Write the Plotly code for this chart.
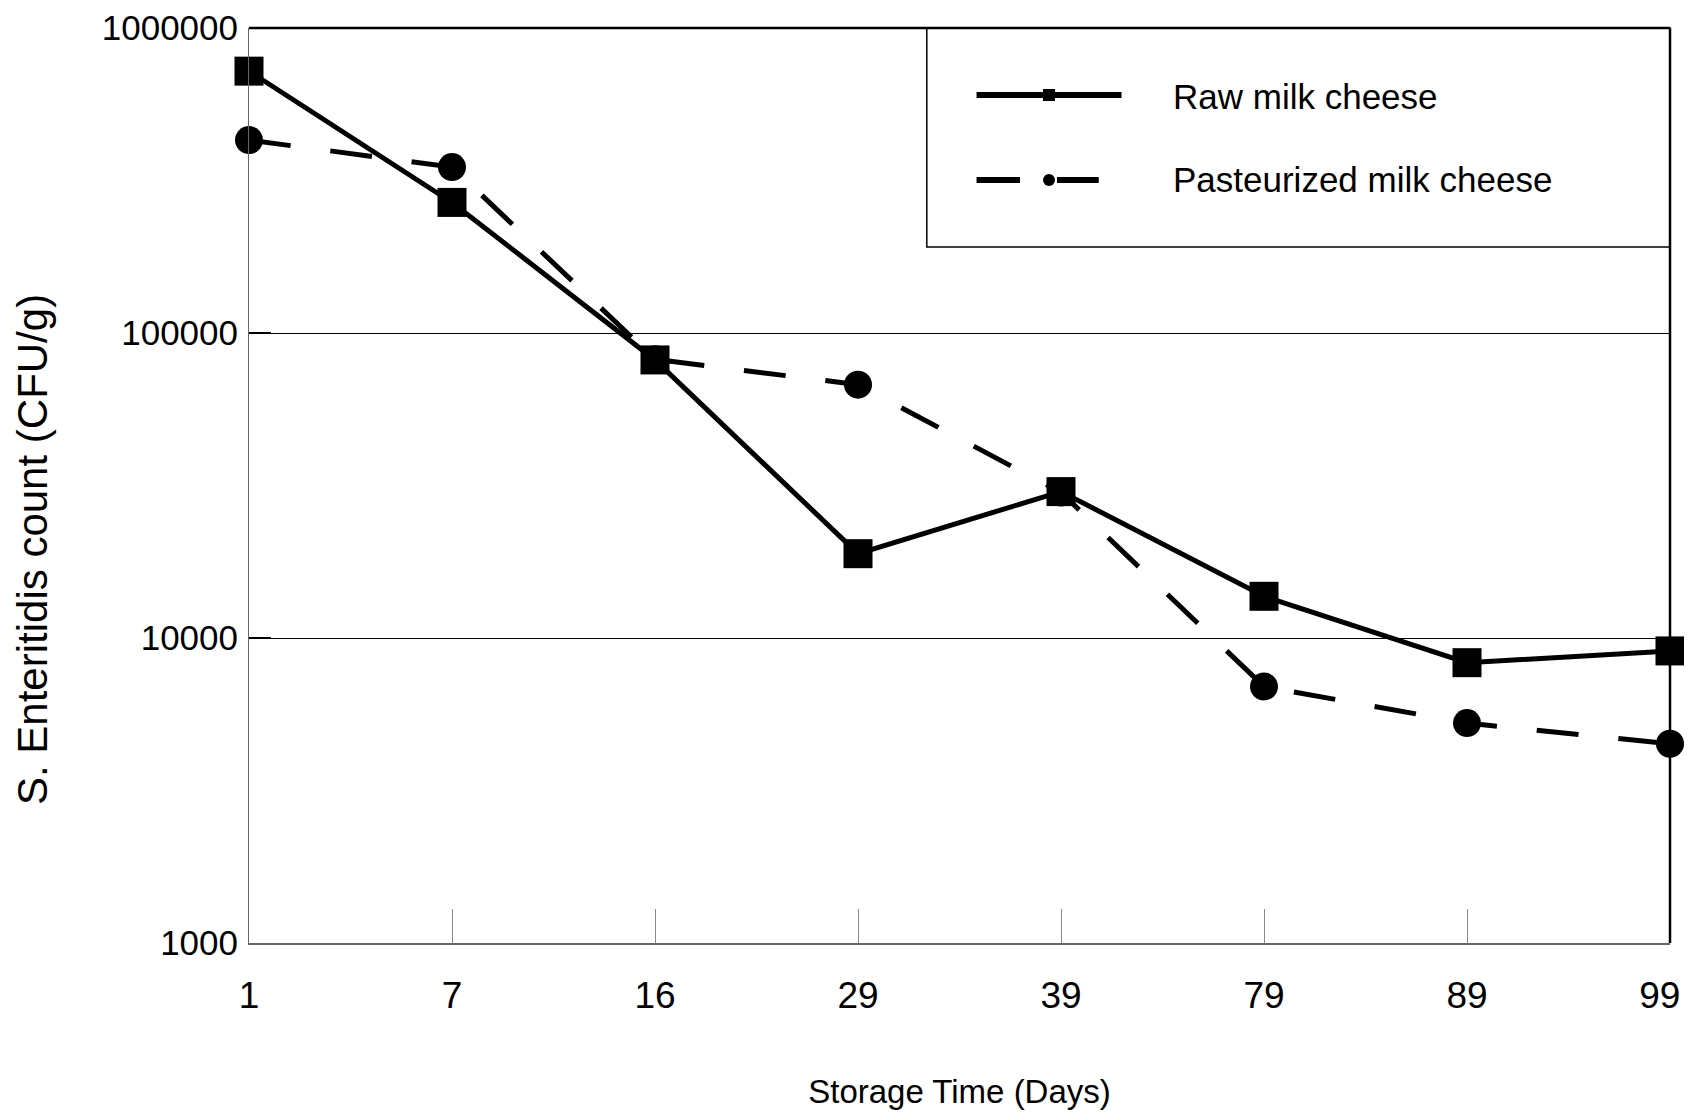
import plotly.graph_objects as go

days = ["1", "7", "16", "29", "39", "79", "89", "99"]
raw_milk = [722000, 268000, 81600, 18900, 30200, 13700, 8300, 9070]
pasteurized_milk = [429000, 350000, 82000, 67700, 30000, 6930, 5260, 4500]
y_tickvals = [1000, 10000, 100000, 1000000]
y_ticktext = ["1000", "10000", "100000", "1000000"]
# last day label padded so it stays inside the visible page edge
x_ticktext = days[:-1] + [days[-1] + "\u00a0\u00a0"]

NARROW = "Liberation Sans Narrow, Arial Narrow, Liberation Sans, sans-serif"
WIDE = "Liberation Sans, Arial, sans-serif"

fig = go.Figure()
fig.add_trace(go.Scatter(
    x=days, y=raw_milk, name="Raw milk cheese", mode="lines+markers",
    line=dict(color="black", width=5),
    marker=dict(symbol="square", size=29, color="black"),
    showlegend=False, cliponaxis=False,
))
fig.add_trace(go.Scatter(
    x=days, y=pasteurized_milk, name="Pasteurized milk cheese", mode="lines+markers",
    line=dict(color="black", width=5, dash="42px,40px"),
    marker=dict(symbol="circle", size=28, color="black"),
    showlegend=False, cliponaxis=False,
))

lx0, lx1, ly0, ly1 = 0.477, 1.0, 0.7607, 1.0
shapes = [
    dict(type="rect", xref="paper", yref="paper", x0=lx0, x1=lx1, y0=ly0, y1=ly1,
         line=dict(color="black", width=1.5), layer="below"),
    dict(type="line", xref="paper", yref="paper", x0=0, x1=1, y0=1, y1=1,
         line=dict(color="black", width=2.5)),
    dict(type="line", xref="paper", yref="paper", x0=1, x1=1, y0=0, y1=1,
         line=dict(color="black", width=2.5)),
]
fig.update_layout(shapes=shapes)

# legend samples on an overlay axis spanning the plot area
raw_y, past_y = 0.9268, 0.834
fig.add_trace(go.Scatter(
    x=[0.512, 0.614], y=[raw_y, raw_y], mode="lines", xaxis="x2", yaxis="y2",
    line=dict(color="black", width=6), showlegend=False, hoverinfo="skip"))
fig.add_trace(go.Scatter(
    x=[0.563], y=[raw_y], mode="markers", xaxis="x2", yaxis="y2",
    marker=dict(symbol="square", size=12, color="black"), showlegend=False, hoverinfo="skip"))
fig.add_trace(go.Scatter(
    x=[0.512, 0.5426], y=[past_y, past_y], mode="lines", xaxis="x2", yaxis="y2",
    line=dict(color="black", width=6), showlegend=False, hoverinfo="skip"))
fig.add_trace(go.Scatter(
    x=[0.5686, 0.598], y=[past_y, past_y], mode="lines", xaxis="x2", yaxis="y2",
    line=dict(color="black", width=6), showlegend=False, hoverinfo="skip"))
fig.add_trace(go.Scatter(
    x=[0.563], y=[past_y], mode="markers", xaxis="x2", yaxis="y2",
    marker=dict(symbol="circle", size=12, color="black"), showlegend=False, hoverinfo="skip"))

fig.add_annotation(xref="paper", yref="paper", x=0.649, y=0.9246, xanchor="left", yanchor="middle",
                   text="Raw milk cheese", showarrow=False, font=dict(family=NARROW, size=35, color="black"))
fig.add_annotation(xref="paper", yref="paper", x=0.649, y=0.834, xanchor="left", yanchor="middle",
                   text="Pasteurized milk cheese", showarrow=False, font=dict(family=NARROW, size=35, color="black"))

# y-axis title (placed lower than centre, as in the original)
fig.add_annotation(xref="paper", yref="paper", x=-0.1527, y=0.4295, xanchor="center", yanchor="middle",
                   text="S. Enteritidis count (CFU/g)", textangle=-90, showarrow=False,
                   font=dict(family=WIDE, size=42, color="black"))

fig.update_layout(
    width=1684, height=1102,
    margin=dict(l=241, r=22, t=20, b=167),
    paper_bgcolor="white", plot_bgcolor="white",
    showlegend=False,
    xaxis=dict(
        type="category", range=[0, 7], automargin=False,
        tickvals=days, ticktext=x_ticktext,
        showline=True, linecolor="#666666", linewidth=1.5,
        showgrid=False, zeroline=False,
        ticks="inside", ticklen=34, tickcolor="#888888", tickwidth=1,
        ticklabelstandoff=19,
        tickfont=dict(family=NARROW, size=37, color="black"),
        title=dict(text="Storage Time (Days)", standoff=75,
                   font=dict(family=NARROW, size=33, color="black")),
    ),
    yaxis=dict(
        type="log", range=[3, 6], automargin=False,
        tickvals=y_tickvals, ticktext=y_ticktext,
        showline=True, linecolor="#666666", linewidth=1,
        showgrid=True, gridcolor="black", gridwidth=1,
        zeroline=False,
        ticks="inside", ticklen=22, tickcolor="black", tickwidth=1.5,
        ticklabelstandoff=3,
        tickfont=dict(family=NARROW, size=35, color="black"),
    ),
    xaxis2=dict(overlaying="x", range=[0, 1], visible=False, anchor="y2"),
    yaxis2=dict(overlaying="y", range=[0, 1], visible=False, anchor="x2"),
)

fig.write_html("out.html")
